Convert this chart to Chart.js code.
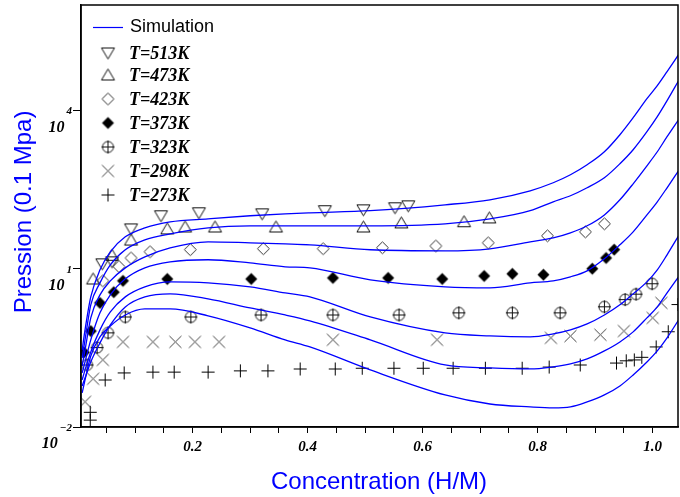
<!DOCTYPE html>
<html>
<head>
<meta charset="utf-8">
<script src="https://cdn.jsdelivr.net/npm/chart.js@4.4.0/dist/chart.umd.min.js"></script>
<style>
  html, body { margin: 0; padding: 0; background: #fff; overflow: hidden; }
  #wrap { width: 680px; height: 497px; }
</style>
</head>
<body>
<div id="wrap"><canvas id="chart" width="680" height="497"></canvas></div>
<script>
// === Simulation curves: x = H/M, y = pressure (0.1 MPa) ===
const simX = [0.008, 0.013, 0.023, 0.039, 0.057, 0.083, 0.117, 0.161, 0.227, 0.300, 0.361, 0.404, 0.509,
              0.639, 0.717, 0.787, 0.827, 0.857, 0.886, 0.916, 0.943, 0.966, 0.990, 1.008, 1.025, 1.045];
const sim513 = [0.289, 0.694, 2.93, 9.53, 20.9, 40.3, 59.7, 77.6, 88.5, 101, 110, 115, 126,
                163, 203, 301, 427, 605, 936, 1652, 3475, 7300, 16750, 29530, 54500, 114500];
const sim473 = [0.204, 0.448, 2.07, 5.40, 11.9, 22.9, 35.3, 45.9, 59.7, 65.2, 65.2, 65.2, 65.2,
                71.1, 88.5, 126, 186, 242, 343, 531, 978, 1803, 3963, 7625, 15350, 36730];
const sim423 = [0.144, 0.289, 1.17, 3.20, 5.89, 10.4, 16.8, 24.9, 32.4, 31.0, 29.6, 28.4, 22.9,
                21.9, 23.9, 32.4, 38.5, 48.0, 65.2, 105, 203, 408, 896, 1652, 3184, 6683];
const sim373 = [0.106, 0.171, 0.448, 1.46, 3.20, 6.43, 10.4, 13.5, 14.8, 12.9, 10.9, 10.4, 6.15,
                4.54, 4.34, 5.40, 5.89, 7.02, 9.12, 15.4, 28.4, 50.1, 105, 186, 343, 721];
const sim323 = [0.078, 0.121, 0.265, 0.694, 1.52, 2.93, 4.54, 5.64, 5.40, 4.54, 3.49, 2.93, 1.22,
                0.608, 0.533, 0.511, 0.582, 0.694, 0.899, 1.33, 2.07, 3.34, 5.64, 9.53, 18.4, 42.1];
const sim298 = [0.060, 0.085, 0.171, 0.393, 0.861, 1.89, 2.93, 3.34, 2.69, 1.81, 1.33, 1.03, 0.448,
                0.150, 0.132, 0.126, 0.138, 0.157, 0.195, 0.277, 0.410, 0.636, 1.17, 1.89, 3.49, 7.02];
const sim273 = [0.0442, 0.078, 0.222, 0.511, 0.824, 1.33, 1.73, 1.73, 1.28, 0.757, 0.448, 0.330, 0.121,
                0.0405, 0.0273, 0.0240, 0.0230, 0.0240, 0.0298, 0.0405, 0.060, 0.097, 0.171, 0.277, 0.489, 1.07];

// === Measured points [x, P] ===
const exp513 = [[0.043, 12.4], [0.060, 13.5], [0.093, 57], [0.145, 101], [0.211, 115], [0.321, 110],
                [0.430, 126], [0.497, 131], [0.552, 143], [0.575, 156]];
const exp473 = [[0.027, 6.4], [0.060, 18], [0.093, 35], [0.156, 57], [0.187, 62], [0.239, 62],
                [0.345, 62], [0.497, 62], [0.563, 74], [0.672, 78], [0.716, 92]];
const exp423 = [[0.044, 5.9], [0.072, 11], [0.093, 16], [0.126, 21], [0.196, 23], [0.323, 24], [0.427, 24],
                [0.530, 25], [0.623, 27], [0.714, 31], [0.817, 42], [0.883, 50], [0.916, 71]];
const exp373 = [[0.011, 0.26], [0.023, 0.66], [0.039, 2.25], [0.063, 3.6], [0.079, 5.9], [0.156, 6.4],
                [0.302, 6.4], [0.444, 6.7], [0.540, 6.7], [0.634, 6.4], [0.707, 7.3], [0.756, 8.0],
                [0.810, 7.7], [0.895, 10], [0.919, 16], [0.933, 23]];
const exp323 = [[0.0165, 0.15], [0.034, 0.32], [0.053, 0.61], [0.083, 1.22], [0.197, 1.22], [0.319, 1.33],
                [0.444, 1.33], [0.559, 1.33], [0.663, 1.46], [0.756, 1.46], [0.839, 1.46], [0.916, 1.9],
                [0.952, 2.6], [0.971, 3.3], [0.999, 5.2]];
const exp298 = [[0.013, 0.030], [0.027, 0.082], [0.044, 0.187], [0.079, 0.41], [0.131, 0.41], [0.170, 0.41],
                [0.204, 0.41], [0.246, 0.41], [0.444, 0.45], [0.625, 0.45], [0.823, 0.49], [0.857, 0.53],
                [0.909, 0.56], [0.950, 0.66], [1.000, 1.17], [1.015, 2.25]];
const exp273 = [[0.022, 0.019], [0.022, 0.0135], [0.048, 0.078], [0.081, 0.106], [0.131, 0.11], [0.168, 0.11],
                [0.227, 0.11], [0.283, 0.116], [0.331, 0.116], [0.387, 0.126], [0.448, 0.126], [0.495, 0.13],
                [0.550, 0.13], [0.601, 0.13], [0.653, 0.13], [0.709, 0.13], [0.773, 0.13], [0.820, 0.137],
                [0.874, 0.15], [0.937, 0.163], [0.954, 0.18], [0.968, 0.187], [0.981, 0.21], [1.006, 0.33],
                [1.027, 0.64], [1.044, 2.1]];

const tempLabels = ['T=513K', 'T=473K', 'T=423K', 'T=373K', 'T=323K', 'T=298K', 'T=273K'];
const markerKinds = ['down', 'up', 'diamond', 'filled', 'oplus', 'cross', 'plus'];
const yTickPowers = [-2, 1, 4];
const xTickLabels = [0.2, 0.4, 0.6, 0.8, 1.0];

const simSeries = [sim513, sim473, sim423, sim373, sim323, sim298, sim273];
const expSeries = [exp513, exp473, exp423, exp373, exp323, exp298, exp273];

// --- marker glyphs drawn on small canvases ---
function makeMarker(kind) {
  const s = 17, m = 8.5;
  const c = document.createElement('canvas');
  c.width = s; c.height = s;
  const g = c.getContext('2d');
  g.lineWidth = 1;
  g.beginPath();
  if (kind === 'down' || kind === 'up') {
    const d = kind === 'down' ? 1 : -1;
    g.strokeStyle = '#111';
    g.moveTo(m - 6.5, m - 5 * d); g.lineTo(m + 6.5, m - 5 * d); g.lineTo(m, m + 6 * d); g.closePath();
    g.stroke();
  } else if (kind === 'diamond' || kind === 'filled') {
    g.moveTo(m, m - 6); g.lineTo(m + 6, m); g.lineTo(m, m + 6); g.lineTo(m - 6, m); g.closePath();
    if (kind === 'filled') { g.fillStyle = '#000'; g.fill(); }
    else { g.strokeStyle = '#333'; g.stroke(); }
  } else if (kind === 'oplus') {
    g.strokeStyle = '#111';
    g.arc(m, m, 5.5, 0, Math.PI * 2);
    g.moveTo(m - 6.5, m); g.lineTo(m + 6.5, m);
    g.moveTo(m, m - 6.5); g.lineTo(m, m + 6.5);
    g.stroke();
  } else if (kind === 'cross') {
    g.strokeStyle = '#444';
    g.moveTo(m - 6, m - 6); g.lineTo(m + 6, m + 6);
    g.moveTo(m + 6, m - 6); g.lineTo(m - 6, m + 6);
    g.stroke();
  } else {
    g.strokeStyle = '#000';
    g.moveTo(m - 6.5, m); g.lineTo(m + 6.5, m);
    g.moveTo(m, m - 6.5); g.lineTo(m, m + 6.5);
    g.stroke();
  }
  return c;
}
const markers = markerKinds.map(makeMarker);

const BLUE = '#0000ff';
const serifBI = 'italic bold 18px "Liberation Serif", "Times New Roman", serif';

// frame, tick labels, titles, legend
const decor = {
  id: 'decor',
  afterDraw(chart) {
    const { ctx, chartArea: a, scales } = chart;
    ctx.save();
    ctx.strokeStyle = '#000';
    ctx.lineWidth = 1.5;
    ctx.strokeRect(a.left, a.top, a.right - a.left, a.bottom - a.top);

    // x tick labels
    ctx.fillStyle = '#000';
    ctx.font = 'italic bold 15px "Liberation Serif", serif';
    ctx.textAlign = 'center';
    ctx.textBaseline = 'middle';
    xTickLabels.forEach(v => {
      ctx.fillText(v.toFixed(1), scales.x.getPixelForValue(v), 447);
    });

    // y tick labels 10^n
    yTickPowers.forEach(p => {
      const y = scales.y.getPixelForValue(Math.pow(10, p));
      const exp = p < 0 ? '\u2212' + Math.abs(p) : String(p);
      ctx.font = 'italic bold 11px "Liberation Serif", serif';
      ctx.textAlign = 'right';
      ctx.textBaseline = 'middle';
      ctx.fillText(exp, 72, y + 1);
      const ew = ctx.measureText(exp).width;
      ctx.font = 'italic bold 16px "Liberation Serif", serif';
      ctx.textBaseline = 'alphabetic';
      ctx.fillText('10', 72 - ew - 2, y + 21);
    });

    // axis titles
    ctx.fillStyle = BLUE;
    ctx.font = '24px "Liberation Sans", Arial, sans-serif';
    ctx.textAlign = 'center';
    ctx.textBaseline = 'middle';
    ctx.fillText('Concentration (H/M)', 379, 482);
    ctx.save();
    ctx.translate(24, 212);
    ctx.rotate(-Math.PI / 2);
    ctx.fillText('Pression (0.1 Mpa)', 0, 0);
    ctx.restore();

    // legend
    ctx.strokeStyle = BLUE;
    ctx.lineWidth = 1.2;
    ctx.beginPath();
    ctx.moveTo(93, 27.5); ctx.lineTo(123, 27.5);
    ctx.stroke();
    ctx.fillStyle = '#000';
    ctx.textAlign = 'left';
    ctx.font = '18px "Liberation Sans", Arial, sans-serif';
    ctx.fillText('Simulation', 130, 27);
    const rows = [53, 75, 99, 123, 147, 171, 195];
    ctx.font = serifBI;
    tempLabels.forEach((t, i) => {
      const mk = markers[i];
      ctx.drawImage(mk, 108 - mk.width / 2, rows[i] - mk.height / 2);
      ctx.fillText(t, 129, rows[i] + 1);
    });
    ctx.restore();
  }
};

const datasets = [];
simSeries.forEach(ys => {
  datasets.push({
    type: 'line',
    data: simX.map((x, i) => ({ x, y: ys[i] })),
    borderColor: BLUE,
    borderWidth: 1.3,
    pointRadius: 0,
    fill: false,
    cubicInterpolationMode: 'monotone'
  });
});
expSeries.forEach((pts, k) => {
  datasets.push({
    type: 'scatter',
    data: pts.map(([x, y]) => ({ x, y })),
    pointStyle: markers[k],
    pointRadius: 6,
    showLine: false
  });
});

new Chart(document.getElementById('chart'), {
  type: 'scatter',
  data: { datasets },
  options: {
    responsive: false,
    animation: false,
    layout: { autoPadding: false, padding: { top: 5, right: 2, left: 0, bottom: 0 } },
    plugins: { legend: { display: false }, tooltip: { enabled: false } },
    scales: {
      x: {
        type: 'linear',
        min: 0.006,
        max: 1.044,
        afterFit: s => { s.height = 70; },
        afterBuildTicks: s => {
          const t = [];
          for (let k = 1; k <= 20; k++) t.push({ value: k * 0.05 });
          s.ticks = t;
        },
        border: { display: true, color: '#000', width: 1.5 },
        grid: { drawOnChartArea: false, drawTicks: true, tickLength: 6, color: '#000', lineWidth: 1 },
        ticks: { display: false }
      },
      y: {
        type: 'logarithmic',
        min: 0.01,
        max: 1e6,
        afterFit: s => { s.width = 81; },
        afterBuildTicks: s => { s.ticks = yTickPowers.map(p => ({ value: Math.pow(10, p) })); },
        border: { display: true, color: '#000', width: 1.5 },
        grid: { drawOnChartArea: false, drawTicks: true, tickLength: 8, color: '#000', lineWidth: 1 },
        ticks: { display: false }
      }
    }
  },
  plugins: [decor]
});
</script>
</body>
</html>
